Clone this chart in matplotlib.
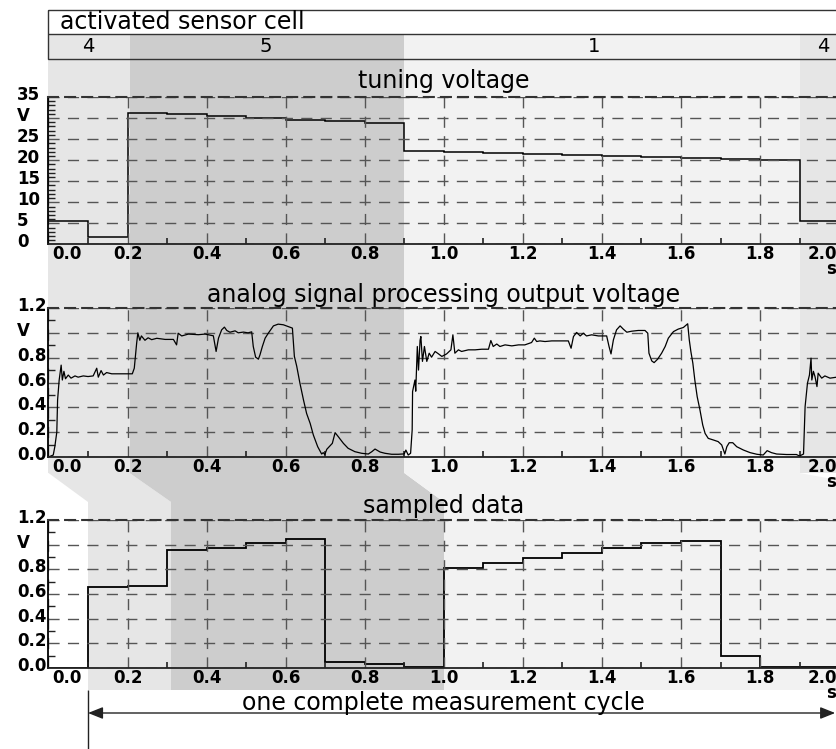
import matplotlib
matplotlib.use('Agg')
import matplotlib.pyplot as plt
import matplotlib.transforms as mtransforms
from matplotlib.patches import Rectangle, Polygon
from matplotlib.ticker import MultipleLocator

plt.rcParams['font.family'] = ['DejaVu Sans']

W, H = 837, 749
X0 = 48.5      # pixel of t = 0 s
PX = 395.3     # pixels per second

# activated sensor cells (time spans in s)
cell_labels = ['4', '5', '1', '4']
cell_label_t = [0.10, 0.55, 1.38, 1.96]
cell_start = [0.0, 0.205, 0.9, 1.9]
cell_end = [0.205, 0.9, 1.9, 2.3]
cell_colors = ['#e6e6e6', '#cdcdcd', '#f2f2f2', '#e6e6e6']
# the same cells in the sampled data (delayed), last one not shown
samp_start = [0.1, 0.31, 1.0, None]
samp_end = [0.31, 1.0, 2.3, None]

step_edges = [0.0, 0.1, 0.2, 0.3, 0.4, 0.5, 0.6, 0.7, 0.8, 0.9, 1.0,
              1.1, 1.2, 1.3, 1.4, 1.5, 1.6, 1.7, 1.8, 1.9, 2.0]

tuning = [5.5, 1.7, 31.1, 30.9, 30.4, 30.0, 29.5, 29.4, 28.8, 22.2,
          21.9, 21.6, 21.4, 21.2, 21.0, 20.7, 20.5, 20.2, 20.0, 5.6]

sampled = [0.0, 0.653, 0.666, 0.955, 0.977, 1.01, 1.05, 0.051, 0.03, 0.01,
           0.812, 0.853, 0.893, 0.929, 0.97, 1.01, 1.031, 0.1, 0.01, 0.01]

analog_t = [0.0, 0.012, 0.016, 0.021, 0.023, 0.027, 0.032, 0.035, 0.039, 0.043,
            0.05, 0.057, 0.067, 0.075, 0.088, 0.1, 0.113, 0.122, 0.126, 0.133,
            0.139, 0.147, 0.16, 0.177, 0.194, 0.212, 0.217, 0.223, 0.226, 0.231,
            0.235, 0.244, 0.252, 0.261, 0.274, 0.295, 0.316, 0.324, 0.328, 0.337,
            0.354, 0.379, 0.396, 0.417, 0.424, 0.43, 0.438, 0.445, 0.451, 0.459,
            0.472, 0.48, 0.493, 0.505, 0.514, 0.518, 0.524, 0.531, 0.535, 0.541,
            0.548, 0.556, 0.569, 0.581, 0.594, 0.607, 0.617, 0.622, 0.628, 0.636,
            0.645, 0.653, 0.662, 0.67, 0.681, 0.691, 0.695, 0.699, 0.704, 0.712,
            0.718, 0.725, 0.733, 0.746, 0.758, 0.775, 0.792, 0.809, 0.818, 0.826,
            0.839, 0.851, 0.868, 0.885, 0.9, 0.904, 0.91, 0.916, 0.92, 0.921,
            0.927, 0.929, 0.933, 0.936, 0.94, 0.942, 0.946, 0.951, 0.957, 0.963,
            0.969, 0.978, 0.986, 0.995, 1.007, 1.018, 1.023, 1.028, 1.037, 1.045,
            1.062, 1.079, 1.096, 1.113, 1.119, 1.125, 1.134, 1.142, 1.155, 1.172,
            1.189, 1.205, 1.222, 1.229, 1.235, 1.243, 1.256, 1.273, 1.29, 1.315,
            1.322, 1.328, 1.336, 1.345, 1.353, 1.361, 1.374, 1.391, 1.412, 1.418,
            1.423, 1.429, 1.437, 1.446, 1.454, 1.463, 1.475, 1.492, 1.509, 1.516,
            1.519, 1.526, 1.532, 1.541, 1.551, 1.56, 1.568, 1.581, 1.593, 1.606,
            1.617, 1.621, 1.625, 1.63, 1.635, 1.641, 1.648, 1.655, 1.661, 1.669,
            1.682, 1.694, 1.703, 1.711, 1.716, 1.722, 1.731, 1.741, 1.758, 1.775,
            1.792, 1.808, 1.818, 1.829, 1.842, 1.867, 1.892, 1.9, 1.91, 1.914,
            1.92, 1.925, 1.929, 1.931, 1.935, 1.939, 1.944, 1.947, 1.956, 1.964,
            1.977, 1.994]
analog_v = [0.0, 0.016, 0.083, 0.2, 0.46, 0.62, 0.74, 0.62, 0.69, 0.63,
            0.66, 0.635, 0.653, 0.643, 0.653, 0.648, 0.653, 0.715, 0.643, 0.696,
            0.66, 0.68, 0.67, 0.67, 0.67, 0.67, 0.715, 0.917, 1.0, 0.94,
            0.975, 0.94, 0.96, 0.945, 0.956, 0.947, 0.947, 0.903, 0.997, 0.975,
            0.99, 0.985, 0.99, 0.976, 0.85, 0.957, 1.024, 1.046, 1.019, 1.005,
            1.016, 1.0, 1.006, 1.0, 1.008, 0.89, 0.804, 0.788, 0.823, 0.89,
            0.957, 0.997, 1.056, 1.07, 1.065, 1.05, 1.038, 0.81, 0.73, 0.595,
            0.46, 0.35, 0.27, 0.177, 0.083, 0.024, 0.035, 0.02, 0.062, 0.089,
            0.11, 0.196, 0.164, 0.11, 0.07, 0.043, 0.03, 0.024, 0.043, 0.064,
            0.04, 0.03, 0.022, 0.022, 0.025, 0.056, 0.016, 0.03, 0.218, 0.527,
            0.62, 0.53, 0.89, 0.70, 0.94, 0.97, 0.77, 0.89, 0.77, 0.836,
            0.804, 0.85, 0.832, 0.81, 0.83, 0.863, 0.984, 0.836, 0.863, 0.85,
            0.863, 0.863, 0.868, 0.868, 0.938, 0.89, 0.91, 0.89, 0.903, 0.895,
            0.903, 0.903, 0.922, 0.957, 0.93, 0.935, 0.93, 0.935, 0.935, 0.935,
            0.876, 0.97, 1.003, 0.975, 0.997, 0.975, 0.984, 0.975, 0.975, 0.89,
            0.83, 0.943, 1.024, 1.056, 1.03, 1.005, 1.013, 1.019, 1.019, 0.997,
            0.836, 0.774, 0.76, 0.788, 0.836, 0.89, 0.957, 1.01, 1.03, 1.043,
            1.073, 0.943, 0.85, 0.756, 0.62, 0.486, 0.379, 0.258, 0.19, 0.15,
            0.137, 0.124, 0.097, 0.024, 0.083, 0.115, 0.115, 0.083, 0.056, 0.035,
            0.022, 0.016, 0.051, 0.035, 0.024, 0.02, 0.02, 0.008, 0.024, 0.406,
            0.595, 0.66, 0.796, 0.62, 0.69, 0.648, 0.567, 0.675, 0.635, 0.653,
            0.635, 0.643]

x_ticks = [0.0, 0.2, 0.4, 0.6, 0.8, 1.0, 1.2, 1.4, 1.6, 1.8, 2.0]
x_labels = ['0.0', '0.2', '0.4', '0.6', '0.8', '1.0', '1.2', '1.4', '1.6', '1.8', '2.0']
tune_ticks = [0, 5, 10, 15, 20, 25, 30, 35]
tune_labels = ['0', '5', '10', '15', '20', '25', 'V', '35']
volt_ticks = [0.0, 0.2, 0.4, 0.6, 0.8, 1.0, 1.2]
volt_labels = ['0.0', '0.2', '0.4', '0.6', '0.8', 'V', '1.2']

fig = plt.figure(figsize=(W / 100, H / 100), dpi=100)

# background in (seconds, pixel rows)
bg = fig.add_axes([0, 0, 1, 1])
bg.set_xlim(-X0 / PX, (W - X0) / PX)
bg.set_ylim(H, 0)
bg.axis('off')

for s, e, c in zip(cell_start, cell_end, cell_colors):
    bg.add_patch(Rectangle((s, 33.5), e - s, 473 - 33.5, fc=c, ec='none'))
for s, e, s2, e2, c in zip(cell_start, cell_end, samp_start, samp_end, cell_colors):
    if s2 is None:
        continue
    bg.add_patch(Polygon([(s, 473), (e, 473), (e2, 502), (s2, 502)], fc=c, ec='none'))
    bg.add_patch(Rectangle((s2, 502), e2 - s2, 690 - 502, fc=c, ec='none'))

# header box
bg.add_patch(Rectangle((0, 10), 2.5, 23.5, fc='white', ec='none'))
bg.add_patch(Rectangle((0, 10), 2.5, 49, fc='none', ec='#333333', lw=1))
bg.hlines(33.5, 0, 2.5, color='#333333', lw=1)
bg.text(0.03, 22, 'activated sensor cell', ha='left', va='center', fontsize=17)
for lab, t in zip(cell_labels, cell_label_t):
    bg.text(t, 47, lab, ha='center', va='center', fontsize=14)

bg.text(1.0, 81, 'tuning voltage', ha='center', va='center', fontsize=17)
bg.text(1.0, 295, 'analog signal processing output voltage', ha='center', va='center', fontsize=17)
bg.text(1.0, 506, 'sampled data', ha='center', va='center', fontsize=17)

# measurement cycle arrow
bg.vlines(0.1, 690, 749, color='#222222', lw=1)
bg.annotate('', xy=(1.99, 713), xytext=(0.1, 713),
            arrowprops=dict(arrowstyle='<|-|>,head_length=0.9,head_width=0.36',
                            color='#222222', lw=1, mutation_scale=10,
                            shrinkA=0, shrinkB=0))
bg.text(1.0, 703, 'one complete measurement cycle', ha='center', va='center', fontsize=17)


def shift(dx, dy):
    return mtransforms.ScaledTranslation(dx / 100, dy / 100, fig.dpi_scale_trans)


def add_panel(top, bottom, ymax, yticks, ylabels, yminor):
    ax = fig.add_axes([X0 / W, 1 - bottom / H, 2.0 * PX / W, (bottom - top) / H])
    ax.set_facecolor('none')
    ax.set_xlim(0, 2.0)
    ax.set_ylim(0, ymax)
    ax.set_xticks(x_ticks)
    ax.set_xticklabels(x_labels, fontweight='bold', fontsize=12)
    ax.set_yticks(yticks)
    ax.set_yticklabels(ylabels, fontweight='bold', fontsize=12)
    ax.xaxis.set_minor_locator(MultipleLocator(0.1))
    ax.yaxis.set_minor_locator(MultipleLocator(yminor))
    ax.tick_params(which='major', length=0)
    ax.tick_params(axis='x', which='major', pad=0.5)
    ax.tick_params(axis='y', which='major', pad=22.7)
    ax.tick_params(axis='x', which='minor', direction='in', length=4, width=1.2, color='#222222')
    ax.tick_params(axis='y', which='minor', direction='in', length=5, width=1, color='#222222')
    xl = ax.get_xticklabels()
    xl[0].set_ha('left')
    xl[0].set_transform(xl[0].get_transform() + shift(4, 0))
    xl[-1].set_ha('right')
    xl[-1].set_transform(xl[-1].get_transform() + shift(-2, 0))
    for lbl in ax.get_yticklabels():
        lbl.set_ha('left')
        lbl.set_transform(lbl.get_transform() + shift(0, 4))
    ax.grid(which='major', color='#555555', lw=1.0, ls=(0, (8, 6)))
    ax.spines['right'].set_visible(False)
    ax.spines['top'].set_linestyle((0, (4.8, 3.4)))
    ax.spines['top'].set_linewidth(1.5)
    ax.spines['top'].set_color('#333333')
    ax.spines['left'].set_linewidth(1.3)
    ax.spines['bottom'].set_linewidth(1.3)
    ax.spines['bottom'].set_color('#222222')
    ax.text(1.0, 0, 's', transform=ax.transAxes + shift(-3, -25), ha='right', va='center',
            fontweight='bold', fontsize=12)
    return ax


ax1 = add_panel(97, 244.5, 35, tune_ticks, tune_labels, 1)
ax1.stairs(tuning, step_edges, baseline=None, color='black', lw=1.1)

ax2 = add_panel(308, 457, 1.2, volt_ticks, volt_labels, 0.1)
ax2.plot(analog_t, analog_v, color='black', lw=0.9)

ax3 = add_panel(520, 668, 1.2, volt_ticks, volt_labels, 0.1)
ax3.stairs(sampled, step_edges, baseline=None, color='black', lw=1.3)

fig.savefig('out.png', dpi=100)
